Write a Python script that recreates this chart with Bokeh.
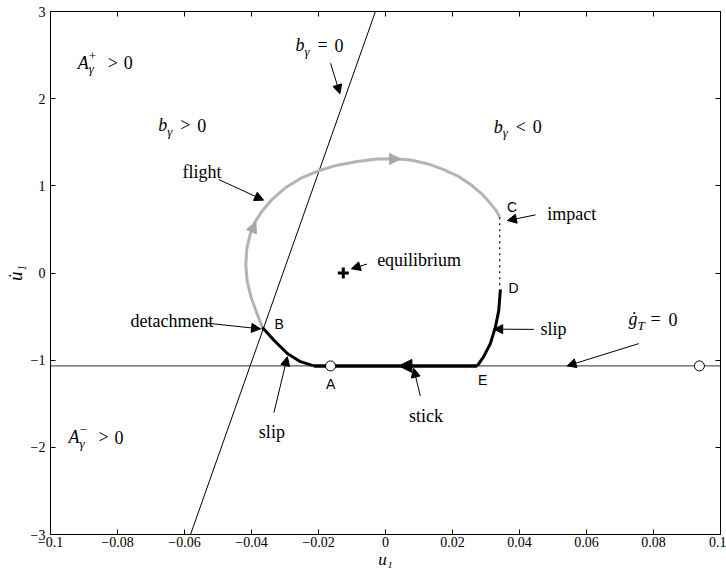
from bokeh.plotting import figure
from bokeh.models import Range1d, LinearAxis, FixedTicker, Arrow, NormalHead
from bokeh.core.properties import value
from bokeh.embed import file_html
from bokeh.resources import INLINE

# ---- axis ticks -------------------------------------------------------------
x_ticks = [-0.1, -0.08, -0.06, -0.04, -0.02, 0, 0.02, 0.04, 0.06, 0.08, 0.1]
x_tick_labels = ["−0.1", "−0.08", "−0.06", "−0.04", "−0.02", "0",
                 "0.02", "0.04", "0.06", "0.08", "0.1"]
y_ticks = [-3, -2, -1, 0, 1, 2, 3]
y_tick_labels = ["−3", "−2", "−1", "0", "1", "2", "3"]

# ---- switching line b_gamma = 0 ---------------------------------------------
b_zero_u = [-0.0582, -0.003]
b_zero_v = [-3.0, 3.0]

# ---- sliding line g_T' = 0 ---------------------------------------------------
g_zero_u = [-0.1, 0.1]
g_zero_v = [-1.066, -1.066]

# ---- flight phase B -> C ----------------------------------------------------
flight_u = [-0.0368, -0.0383, -0.0401, -0.0413, -0.0417, -0.0414, -0.0404,
            -0.0391, -0.0368, -0.0338, -0.0299, -0.0254, -0.0204, -0.0144,
            -0.0084, -0.0025, 0.0024, 0.0075, 0.0125, 0.0174, 0.0218,
            0.0257, 0.0290, 0.0316, 0.0331, 0.0341]
flight_v = [-0.621, -0.471, -0.282, -0.094, 0.094, 0.282, 0.441,
            0.576, 0.712, 0.847, 0.977, 1.085, 1.167, 1.237,
            1.280, 1.307, 1.311, 1.296, 1.254, 1.186, 1.107,
            1.006, 0.898, 0.785, 0.712, 0.641]

# ---- impact C -> D (velocity jump) ------------------------------------------
impact_u = [0.0341, 0.0341]
impact_v = [0.641, -0.18]

# ---- slip D -> E ------------------------------------------------------------
slip_de_u = [0.0343, 0.0338, 0.0328, 0.0313, 0.0293, 0.0274]
slip_de_v = [-0.189, -0.433, -0.621, -0.810, -0.960, -1.066]

# ---- stick E -> A -----------------------------------------------------------
stick_u = [0.0274, -0.0214]
stick_v = [-1.066, -1.066]

# ---- slip A -> B ------------------------------------------------------------
slip_ab_u = [-0.0214, -0.0254, -0.0293, -0.0333, -0.0368]
slip_ab_v = [-1.066, -1.017, -0.923, -0.772, -0.621]

# ---- marked states ----------------------------------------------------------
circle_u = [-0.0164, 0.0937]
circle_v = [-1.066, -1.066]
equil_u = [-0.0126]
equil_v = [0.0]

SERIF = "Liberation Serif"
SANS = "Liberation Sans"

p = figure(width=726, height=571, output_backend="svg", toolbar_location=None,
           x_range=Range1d(-0.1, 0.1), y_range=Range1d(-3, 3),
           min_border_left=50, min_border_right=6, min_border_top=11,
           min_border_bottom=30)
p.grid.visible = False
p.outline_line_color = "black"
p.background_fill_color = "white"
p.border_fill_color = "white"

for ax in (p.xaxis[0], p.yaxis[0]):
    ax.major_tick_in = 5
    ax.major_tick_out = 0
    ax.minor_tick_line_color = None
    ax.axis_line_color = "black"
    ax.major_tick_line_color = "black"
    ax.major_label_text_font = SERIF
    ax.major_label_text_font_size = "14px"
    ax.major_label_text_color = "black"
    ax.axis_label_text_font = SERIF
    ax.axis_label_text_font_style = "italic"
    ax.axis_label_text_color = "black"

p.xaxis[0].ticker = FixedTicker(ticks=x_ticks)
p.xaxis[0].major_label_overrides = dict(zip(x_ticks, x_tick_labels))
p.xaxis[0].axis_label = "u₁"
p.xaxis[0].axis_label_text_font_size = "17px"
p.xaxis[0].major_label_standoff = 2
p.xaxis[0].axis_label_standoff = 0

p.yaxis[0].ticker = FixedTicker(ticks=y_ticks)
p.yaxis[0].major_label_overrides = dict(zip(y_ticks, y_tick_labels))
p.yaxis[0].axis_label = "u̇₁"
p.yaxis[0].axis_label_text_font_size = "19px"
p.yaxis[0].major_label_standoff = 5
p.yaxis[0].axis_label_standoff = 2

# box ticks on the top and right edges
for loc, ticks in (("above", x_ticks), ("right", y_ticks)):
    ax = LinearAxis(ticker=FixedTicker(ticks=ticks), major_tick_in=5,
                    major_tick_out=0, minor_tick_line_color=None,
                    major_label_text_font_size="0px",
                    axis_line_color="black", major_tick_line_color="black")
    p.add_layout(ax, loc)

# ---- reference lines --------------------------------------------------------
p.line(g_zero_u, g_zero_v, line_color="#5a5a5a", line_width=1.4)
p.line(b_zero_u, b_zero_v, line_color="black", line_width=1)

# ---- trajectory -------------------------------------------------------------
p.line(flight_u, flight_v, line_color="#b4b4b4", line_width=3, line_join="round")
p.line(impact_u, impact_v, line_color="black", line_width=1.2, line_dash="2 4")
p.line(slip_de_u, slip_de_v, line_color="black", line_width=3, line_join="round")
p.line(stick_u, stick_v, line_color="black", line_width=3.5)
p.line(slip_ab_u, slip_ab_v, line_color="black", line_width=3, line_join="round")

# direction heads along the orbit
p.add_layout(Arrow(end=NormalHead(size=11, fill_color="#a8a8a8", line_color="#a8a8a8"),
                   x_start=-0.0404, y_start=0.441, x_end=-0.0387, y_end=0.590,
                   line_alpha=0))
p.add_layout(Arrow(end=NormalHead(size=11, fill_color="#a8a8a8", line_color="#a8a8a8"),
                   x_start=-0.0025, y_start=1.307, x_end=0.0045, y_end=1.309,
                   line_alpha=0))
p.add_layout(Arrow(end=NormalHead(size=13, fill_color="black", line_color="black"),
                   x_start=0.015, y_start=-1.066, x_end=0.004, y_end=-1.066,
                   line_alpha=0))

p.scatter(circle_u, circle_v, marker="circle", size=10, fill_color="white",
          line_color="black", line_width=1)
p.scatter(equil_u, equil_v, marker="cross", size=11, line_color="black", line_width=3)


# ---- annotations ------------------------------------------------------------
def put(x, y, txt, size="18px", style="normal", font=SERIF, dx=0, dy=0, align="left"):
    p.text(x=[x], y=[y], text=[txt], x_offset=dx, y_offset=dy,
           text_font=value(font), text_font_size=size, text_font_style=style,
           text_align=align, text_baseline="middle", text_color="black")


def relation(x, y, head, sub, sup, rel, dsub, drel, dval):
    put(x, y, head, style="italic")
    if sup:
        put(x, y, sup, size="13px", dx=dsub, dy=-7)
    put(x, y, sub, size="13px", style="italic", dx=dsub, dy=6)
    put(x, y, rel, dx=drel)
    put(x, y, "0", dx=dval)


relation(-0.0919, 2.41, "A", "γ", "+", ">", 11, 30, 46)
relation(-0.0946, -1.884, "A", "γ", "−", ">", 11, 30, 46)
relation(-0.0678, 1.695, "b", "γ", None, ">", 9, 22, 39)
relation(0.0323, 1.676, "b", "γ", None, "<", 9, 22, 39)
relation(-0.0269, 2.61, "b", "γ", None, "=", 9, 22, 39)
relation(0.0725, -0.531, "ġ", "T", None, "=", 9, 22, 40)

put(-0.0606, 1.153, "flight")
put(0.0483, 0.678, "impact")
put(-0.0025, 0.150, "equilibrium")
put(0.0463, -0.640, "slip")
put(-0.0761, -0.546, "detachment")
put(-0.0378, -1.827, "slip")
put(0.0070, -1.638, "stick")

put(0.0363, 0.757, "C", size="14px", font=SANS)
put(0.0367, -0.170, "D", size="14px", font=SANS)
put(-0.0331, -0.584, "B", size="14px", font=SANS)
put(-0.0164, -1.269, "A", size="14px", font=SANS, align="center")
put(0.0290, -1.224, "E", size="14px", font=SANS, align="center")

# pointer arrows: (from_u, from_v, to_u, to_v)
pointers = [
    (-0.0164, 2.407, -0.0136, 2.056),
    (-0.0498, 1.073, -0.0364, 0.836),
    (0.0448, 0.667, 0.0364, 0.602),
    (-0.0055, 0.102, -0.0102, 0.049),
    (0.0443, -0.647, 0.0323, -0.644),
    (0.0756, -0.810, 0.0542, -1.066),
    (-0.0532, -0.576, -0.0373, -0.641),
    (-0.0333, -1.601, -0.0293, -0.960),
    (0.0104, -1.412, 0.0084, -1.093),
]
for u0, v0, u1, v1 in pointers:
    p.add_layout(Arrow(end=NormalHead(size=9, fill_color="black", line_color="black"),
                       x_start=u0, y_start=v0, x_end=u1, y_end=v1,
                       line_color="black", line_width=1))

open("out.html", "w").write(file_html(p, INLINE))
